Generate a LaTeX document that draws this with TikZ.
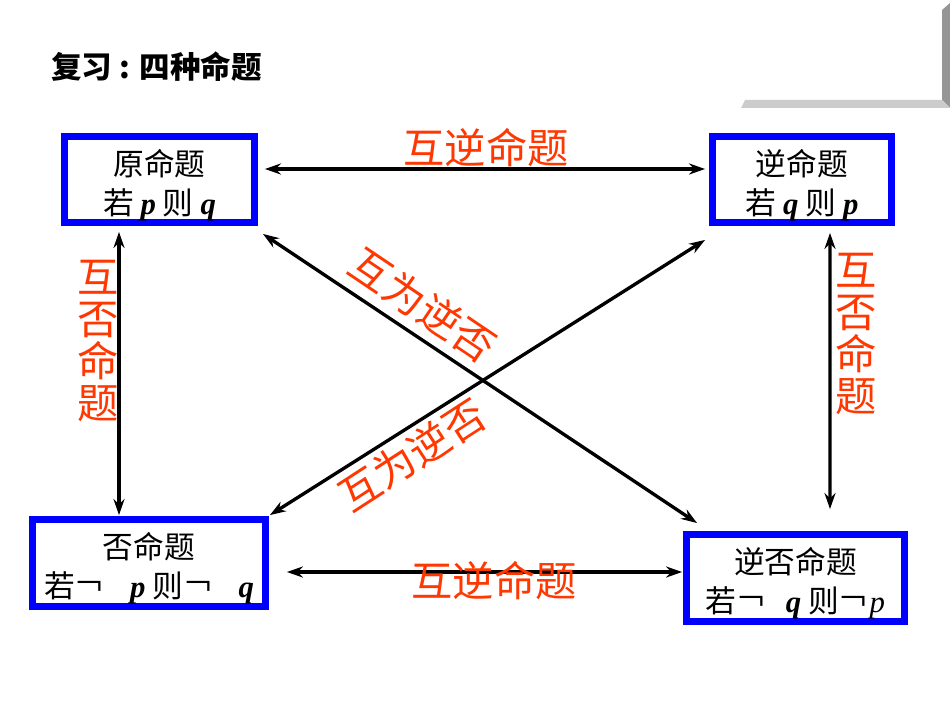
\documentclass[tikz,border=0pt]{standalone}
\usepackage{fontspec}
\usetikzlibrary{arrows.meta,calc}
\newfontfamily\cjk{Noto Sans CJK SC}
\newfontfamily\ser{Liberation Serif}
\newcommand\pq{\ser\bfseries\itshape}
\newcommand\boxfont{\cjk\fontsize{17.5pt}{22pt}\selectfont}
\newcommand\labfont{\cjk\fontsize{23.5pt}{24pt}\selectfont}
\definecolor{labred}{RGB}{255,55,0}
\definecolor{barlight}{RGB}{204,204,204}
\definecolor{bardark}{RGB}{150,150,150}
\begin{document}
\begin{tikzpicture}[x=0.02cm,y=-0.02cm,
  box/.style={draw=blue,line width=3.9pt,inner sep=0pt,align=center,font=\boxfont},
  conn/.style={{Stealth[length=0.32cm,width=0.22cm]}-{Stealth[length=0.32cm,width=0.22cm]},line width=1.9pt},
  lab/.style={text=labred,font=\labfont,inner sep=0pt,align=center}]
\fill[white] (0,0) rectangle (950,713);
\useasboundingbox (0,0) rectangle (950,713);
% decorative corner bars
\fill[bardark] (942,10) -- (950,3) -- (950,108) -- (942,100) -- cycle;
\fill[barlight] (745,100) -- (942,100) -- (950,108) -- (741,108) -- cycle;
% title
\node[anchor=west,inner sep=0pt,font=\cjk\bfseries\fontsize{17.4pt}{17.4pt}\selectfont] (T) at (51,67) {复习 : 四种命题};
% boxes
\node[box,minimum width=3.8cm,minimum height=1.72cm] (A) at (159.5,179.5) {\rule{0pt}{21pt}原命题\\若 {\pq p} 则 {\pq q}};
\node[box,minimum width=3.58cm,minimum height=1.72cm] (B) at (802,179.5) {\rule{0pt}{21pt}逆命题\\若 {\pq q} 则 {\pq p}};
\node[box,minimum width=4.66cm,minimum height=1.74cm] (C) at (149,563) {\rule{0pt}{21pt}否命题\\若￢\hspace{0.8em}{\pq p} 则￢\hspace{0.8em}{\pq q}};
\node[box,minimum width=4.36cm,minimum height=1.74cm] (D) at (795.5,578) {\rule{0pt}{21pt}逆否命题\\若￢\hspace{0.6em}{\pq q} 则￢{\ser\itshape p}};
% connectors
\draw[conn] ($(A.east)+(7,-10.5)$) -- ($(B.west)+(-4,-10.5)$);
\draw[conn] ($(C.east)+(18,9)$) -- ($(D.west)+(-1,-6)$);
\draw[conn] ($(A.south)+(-40.5,6)$) -- ($(C.north)+(-30,-1)$);
\draw[conn] ($(B.south)+(28,7)$) -- ($(D.north)+(34.5,-22)$);
\draw[conn] ($(A.south east)+(5,8)$) -- ($(D.north west)+(14,-8)$);
\draw[conn] ($(B.south west)+(-4,14)$) -- ($(C.north east)+(1,-1)$);
% labels
\node[lab] (l1) at (486,148) {互逆命题};
\node[lab] (l2) at (494,581) {互逆命题};
\node[lab] (l3) at (98,341) {互\\否\\命\\题};
\node[lab] (l4) at (856,334) {互\\否\\命\\题};
\node[lab,rotate=-34] (l5) at (423,305) {互为逆否};
\node[lab,rotate=33] (l6) at (412,455) {互为逆否};
\end{tikzpicture}
\end{document}
